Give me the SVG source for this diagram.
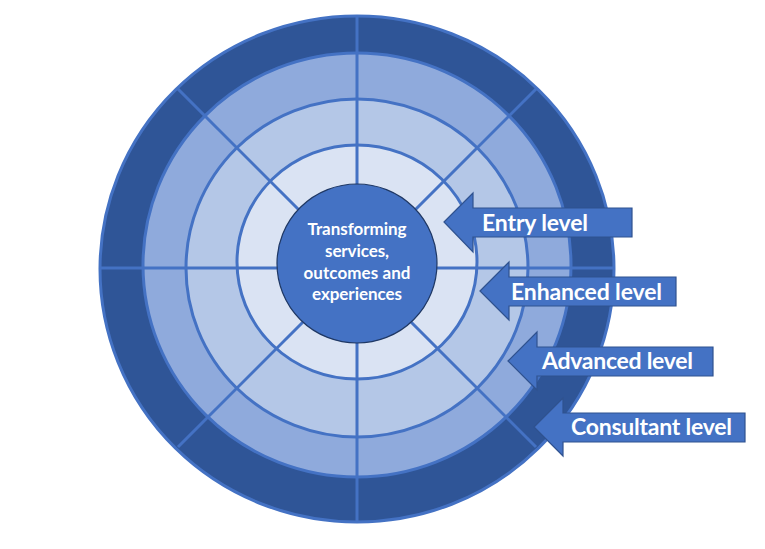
<svg xmlns="http://www.w3.org/2000/svg" width="765" height="549" viewBox="0 0 765 549">
<style>
.ring{stroke:#4472C4;stroke-width:3}
.spoke{stroke:#4472C4;stroke-width:3;fill:none}
.arrow{fill:#4472C4;stroke:#2F528F;stroke-width:1.2}
.lbl{font-family:Lato,"Open Sans",sans-serif;font-weight:bold;font-size:23px;fill:#FFFFFF}
.ctr{font-family:Lato,"Open Sans",sans-serif;font-weight:bold;font-size:17px;fill:#FFFFFF;text-anchor:middle}
</style>
<rect width="765" height="549" fill="#FFFFFF"/>
<g id="ring-consultant"><ellipse cx="357" cy="269" rx="257" ry="253" fill="#2F5597" class="ring"/></g>
<g id="ring-advanced"><ellipse cx="357" cy="265" rx="214" ry="212" fill="#8FAADC" class="ring"/></g>
<g id="ring-enhanced"><ellipse cx="357" cy="268" rx="171" ry="169" fill="#B4C7E7" class="ring"/></g>
<g id="ring-entry"><ellipse cx="357" cy="262" rx="120" ry="117" fill="#DAE3F3" class="ring"/></g>
<g id="connectors">
<line class="spoke" x1="101" y1="268" x2="613" y2="268"/>
<line class="spoke" x1="357" y1="17" x2="357" y2="521"/>
<line class="spoke" x1="178" y1="89" x2="536" y2="447"/>
<line class="spoke" x1="536" y1="89" x2="178" y2="447"/>
</g>
<g id="centre">
<ellipse cx="357" cy="263.5" rx="80" ry="79.5" fill="#4472C4" stroke="#1F3864" stroke-width="1.2"/>
<text class="ctr" x="357" y="235" textLength="99">Transforming</text>
<text class="ctr" x="357" y="257" textLength="64">services,</text>
<text class="ctr" x="357" y="279" textLength="107">outcomes and</text>
<text class="ctr" x="357" y="300" textLength="90">experiences</text>
</g>
<g id="arrow-entry">
<path class="arrow" d="M444,222 L473,193 L473,208 L632,208 L632,237 L473,237 L473,252 Z"/>
<text class="lbl" x="482" y="231" textLength="106">Entry level</text>
</g>
<g id="arrow-enhanced">
<path class="arrow" d="M480,291 L509,262 L509,277 L676,277 L676,306 L509,306 L509,320 Z"/>
<text class="lbl" x="511" y="300" textLength="151">Enhanced level</text>
</g>
<g id="arrow-advanced">
<path class="arrow" d="M508,361 L537,332 L537,347 L713,347 L713,376 L537,376 L537,390 Z"/>
<text class="lbl" x="542" y="369" textLength="151">Advanced level</text>
</g>
<g id="arrow-consultant">
<path class="arrow" d="M534,427 L563,398 L563,413 L745,413 L745,442 L563,442 L563,456 Z"/>
<text class="lbl" x="571" y="435" textLength="161">Consultant level</text>
</g>
</svg>
